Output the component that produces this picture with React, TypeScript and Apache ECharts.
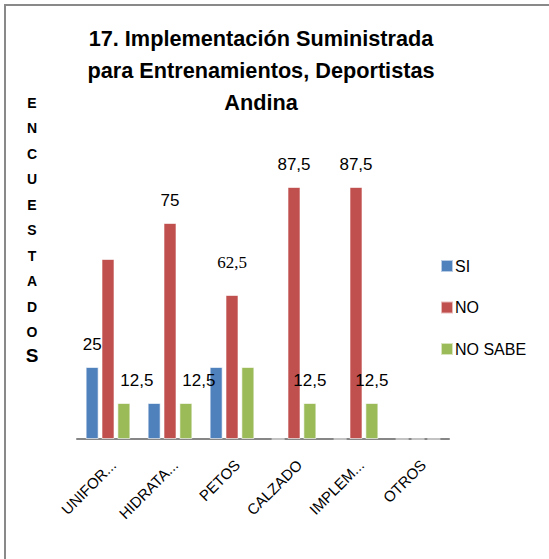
import React, { useEffect, useRef } from "react";
import * as echarts from "echarts";

const categories = ["UNIFOR...", "HIDRATA...", "PETOS", "CALZADO", "IMPLEM...", "OTROS"];
const seriesNames = ["SI", "NO", "NO SABE"];
const siValues = [25, 12.5, 25, 0, 0, 0];
const noValues = [62.5, 75, 50, 87.5, 87.5, 0];
const noSabeValues = [12.5, 12.5, 25, 12.5, 12.5, 0];
const siLabels = ["25", "", "", "", "", ""];
const noLabels = ["", "75", "62,5", "87,5", "87,5", ""];
const noSabeLabels = ["12,5", "12,5", "", "12,5", "12,5", ""];
const titleLines = ["17. Implementación Suministrada", "para Entrenamientos, Deportistas", "Andina"];
const yAxisTitle = "ENCUESTADOS";

const FONT = "'Liberation Sans', Arial, sans-serif";

export default function App() {
  const ref = useRef<HTMLDivElement>(null);
  useEffect(() => {
    document.body.style.margin = "0";
    const chart = echarts.init(ref.current!, null, { renderer: "svg" });
    const labelStyle = {
      show: true,
      position: "top",
      distance: 14,
      color: "#000",
      fontFamily: FONT,
      fontSize: 17,
    };
    const mk = (vals: number[], labels: string[], color: string, name: string, extra?: (i: number) => any) => ({
      type: "bar",
      name,
      barWidth: 13,
      barGap: "22%",
      itemStyle: { color, borderColor: "rgba(255,255,255,0.6)", borderWidth: 1 },
      data: vals.map((v, i) => ({
        value: v,
        label: labels[i] ? { ...labelStyle, formatter: labels[i], ...(extra ? extra(i) : {}) } : { show: false },
      })),
    });
    const letters = yAxisTitle.split("");
    const head = letters.slice(0, -1).join("\n");
    const last = letters[letters.length - 1];
    chart.setOption({
      animation: false,
      backgroundColor: "#fff",
      textStyle: { fontFamily: FONT },
      grid: { left: 77, right: 100, top: 151, bottom: 120 },
      xAxis: {
        type: "category",
        data: categories,
        axisLine: { lineStyle: { color: "#868686", width: 2 } },
        axisTick: { show: false },
        axisLabel: {
          rotate: 45,
          interval: 0,
          margin: 18,
          verticalAlign: "top",
          color: "#000",
          fontFamily: FONT,
          fontSize: 15,
        },
      },
      yAxis: {
        type: "value",
        min: 0,
        max: 100,
        show: false,
        splitLine: { show: false },
      },
      legend: {
        orient: "vertical",
        left: 435,
        top: 253,
        itemWidth: 12,
        itemHeight: 12,
        itemGap: 25.5,
        icon: "rect",
        data: seriesNames,
        textStyle: { color: "#000", fontFamily: FONT, fontSize: 16, padding: [0, 0, 0, -3] },
      },
      graphic: [
        {
          type: "rect",
          shape: { x: 5, y: 5, width: 700, height: 700 },
          style: { fill: "none", stroke: "#898989", lineWidth: 2 },
        },
        {
          type: "text",
          x: 261,
          y: 22,
          style: {
            text: titleLines.join("\n"),
            align: "center",
            fill: "#000",
            fontFamily: FONT,
            fontWeight: "bold",
            fontSize: 21.7,
            lineHeight: 32,
          },
        },
        {
          type: "text",
          x: 32,
          y: 90,
          style: {
            text: head,
            align: "center",
            fill: "#000",
            fontFamily: FONT,
            fontWeight: "bold",
            fontSize: 14,
            lineHeight: 25.5,
          },
        },
        {
          type: "text",
          x: 32,
          y: 346,
          style: {
            text: last,
            align: "center",
            fill: "#000",
            fontFamily: FONT,
            fontWeight: "bold",
            fontSize: 19,
          },
        },
      ],
      series: [
        mk(siValues, siLabels, "#4F81BD", seriesNames[0]),
        mk(noValues, noLabels, "#C0504D", seriesNames[1], (i) =>
          noLabels[i] === "62,5" ? { fontFamily: "'Liberation Serif', 'Times New Roman', serif", distance: 24 } : {}
        ),
        mk(noSabeValues, noSabeLabels, "#9BBB59", seriesNames[2], (i) => (i < 2 ? { offset: [13, 0] } : {})),
      ],
    });
    return () => chart.dispose();
  }, []);
  return <div ref={ref} style={{ position: "absolute", left: 0, top: 0, width: 549, height: 559 }} />;
}
